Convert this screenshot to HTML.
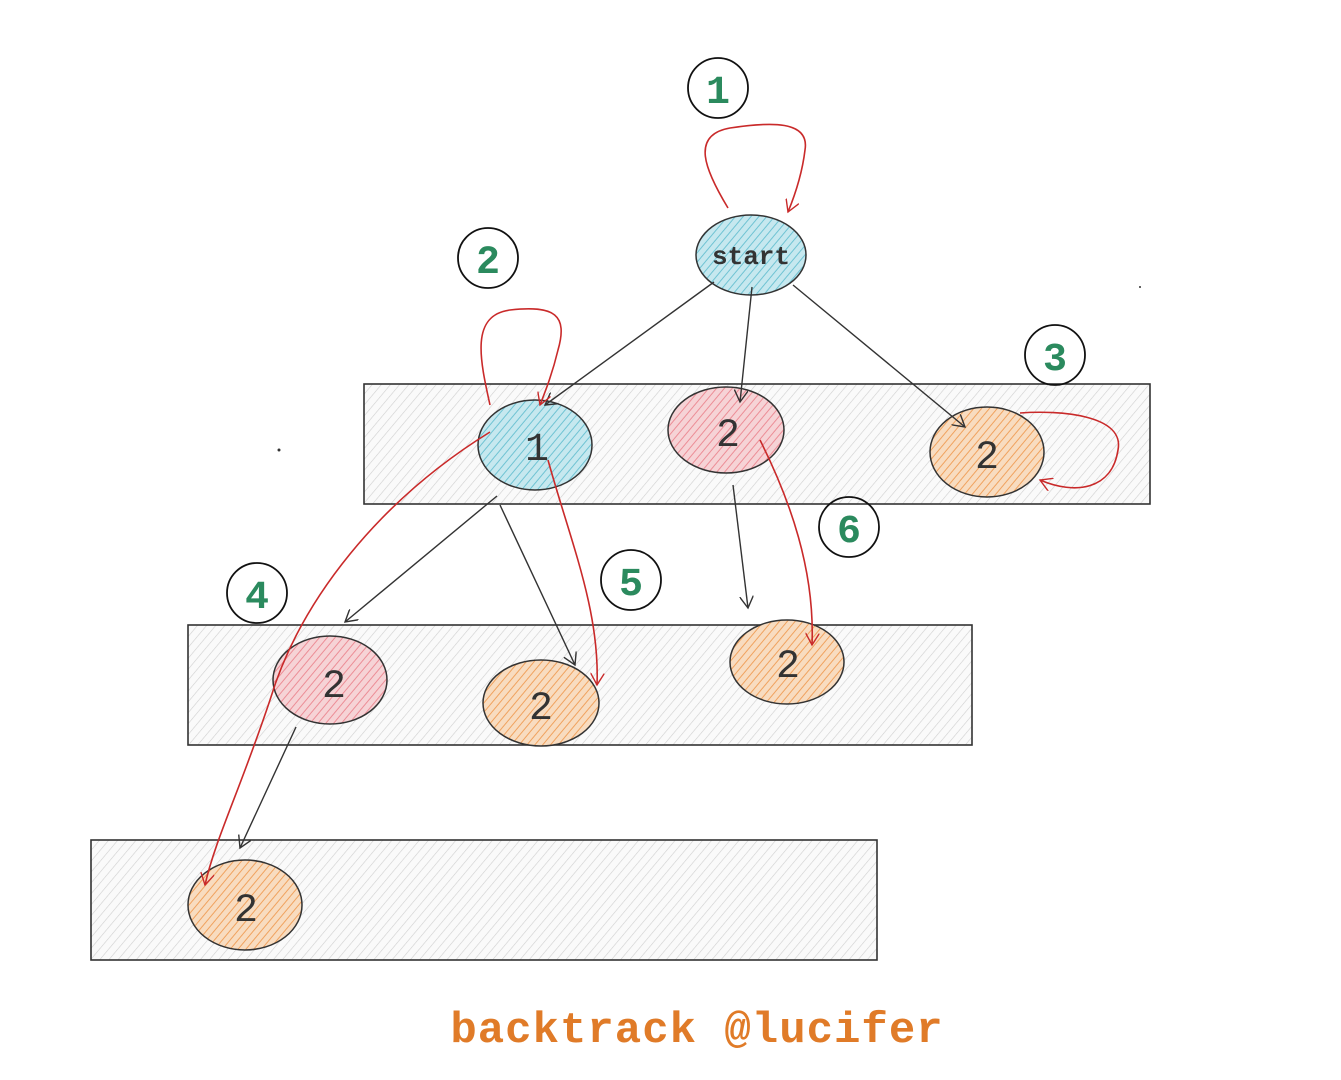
<!DOCTYPE html>
<html><head><meta charset="utf-8"><style>
html,body{margin:0;padding:0;background:#fff;}
svg{display:block}
text{font-family:"Liberation Mono","DejaVu Sans Mono",monospace;}
</style></head><body>
<svg width="1341" height="1080" viewBox="0 0 1341 1080" xmlns="http://www.w3.org/2000/svg">
<defs>
<pattern id="hg" width="7" height="7" patternUnits="userSpaceOnUse" patternTransform="rotate(40)">
<rect width="7" height="7" fill="#fafafa"/><line x1="0" y1="0" x2="0" y2="7" stroke="#cfcfcf" stroke-width="1.2"/></pattern>
<pattern id="hb" width="6" height="6" patternUnits="userSpaceOnUse" patternTransform="rotate(40)">
<rect width="6" height="6" fill="#c6e8ef"/><line x1="0" y1="0" x2="0" y2="6" stroke="#6fc3d3" stroke-width="2"/></pattern>
<pattern id="hr" width="6" height="6" patternUnits="userSpaceOnUse" patternTransform="rotate(40)">
<rect width="6" height="6" fill="#f6d3d6"/><line x1="0" y1="0" x2="0" y2="6" stroke="#ec8d96" stroke-width="2"/></pattern>
<pattern id="ho" width="6" height="6" patternUnits="userSpaceOnUse" patternTransform="rotate(40)">
<rect width="6" height="6" fill="#f8dcc0"/><line x1="0" y1="0" x2="0" y2="6" stroke="#f0a25e" stroke-width="2"/></pattern>
<marker id="ak" markerWidth="14" markerHeight="14" refX="12" refY="7" orient="auto" markerUnits="userSpaceOnUse">
<path d="M0,0 L12,7 L0,14" fill="none" stroke="#333" stroke-width="1.4"/></marker>
<marker id="ar" markerWidth="14" markerHeight="14" refX="12" refY="7" orient="auto" markerUnits="userSpaceOnUse">
<path d="M0,0 L12,7 L0,14" fill="none" stroke="#c92a2a" stroke-width="1.4"/></marker>
</defs>

<g stroke="#333" stroke-width="1.6">
<rect x="364" y="384" width="786" height="120" fill="url(#hg)"/>
<rect x="188" y="625" width="784" height="120" fill="url(#hg)"/>
<rect x="91" y="840" width="786" height="120" fill="url(#hg)"/>
</g>

<g stroke="#333" stroke-width="1.5">
<ellipse cx="751" cy="255" rx="55" ry="40" fill="url(#hb)"/>
<ellipse cx="535" cy="445" rx="57" ry="45" fill="url(#hb)"/>
<ellipse cx="726" cy="430" rx="58" ry="43" fill="url(#hr)"/>
<ellipse cx="987" cy="452" rx="57" ry="45" fill="url(#ho)"/>
<ellipse cx="330" cy="680" rx="57" ry="44" fill="url(#hr)"/>
<ellipse cx="541" cy="703" rx="58" ry="43" fill="url(#ho)"/>
<ellipse cx="787" cy="662" rx="57" ry="42" fill="url(#ho)"/>
<ellipse cx="245" cy="905" rx="57" ry="45" fill="url(#ho)"/>
</g>

<g fill="#333" font-size="40" text-anchor="middle">
<text x="751" y="264" font-size="26" font-weight="bold">start</text>
<text x="537" y="460">1</text>
<text x="728" y="446">2</text>
<text x="987" y="468">2</text>
<text x="334" y="697">2</text>
<text x="541" y="719">2</text>
<text x="788" y="677">2</text>
<text x="246" y="921">2</text>
</g>

<g fill="none" stroke="#333" stroke-width="1.4">
<line x1="714" y1="282" x2="545" y2="405" marker-end="url(#ak)"/>
<line x1="752" y1="287" x2="740" y2="402" marker-end="url(#ak)"/>
<line x1="793" y1="285" x2="965" y2="427" marker-end="url(#ak)"/>
<line x1="497" y1="496" x2="345" y2="622" marker-end="url(#ak)"/>
<line x1="500" y1="505" x2="575" y2="665" marker-end="url(#ak)"/>
<line x1="733" y1="485" x2="748" y2="608" marker-end="url(#ak)"/>
<line x1="296" y1="727" x2="240" y2="848" marker-end="url(#ak)"/>
</g>

<g fill="none" stroke="#c92a2a" stroke-width="1.6">
<path d="M728,208 C705,170 690,135 730,128 C770,122 810,120 805,150 C802,175 795,195 788,212" marker-end="url(#ar)"/>
<path d="M490,405 C480,360 470,315 510,310 C555,305 568,315 558,350 C552,375 545,392 540,405" marker-end="url(#ar)"/>
<path d="M1020,413 C1060,410 1125,415 1118,450 C1112,490 1075,495 1040,480" marker-end="url(#ar)"/>
<path d="M490,432 C380,500 300,600 270,700 C240,790 215,840 205,885" marker-end="url(#ar)"/>
<path d="M548,460 C570,540 600,610 597,685" marker-end="url(#ar)"/>
<path d="M760,440 C790,500 815,570 812,645" marker-end="url(#ar)"/>
</g>

<g fill="none" stroke="#111" stroke-width="1.8">
<circle cx="718" cy="88" r="30"/>
<circle cx="488" cy="258" r="30"/>
<circle cx="1055" cy="355" r="30"/>
<circle cx="257" cy="593" r="30"/>
<circle cx="631" cy="580" r="30"/>
<circle cx="849" cy="527" r="30"/>
</g>
<g fill="#2b8a5e" font-size="40" font-weight="bold" text-anchor="middle">
<text x="718" y="103">1</text>
<text x="488" y="273">2</text>
<text x="1055" y="370">3</text>
<text x="257" y="608">4</text>
<text x="631" y="595">5</text>
<text x="849" y="542">6</text>
</g>
<circle cx="279" cy="450" r="1.5" fill="#333"/>
<circle cx="1140" cy="287" r="1" fill="#333"/>

<text x="697" y="1042" text-anchor="middle" font-size="44" letter-spacing="1" font-weight="bold" fill="#e07b28">backtrack @lucifer</text>
</svg>
</body></html>
